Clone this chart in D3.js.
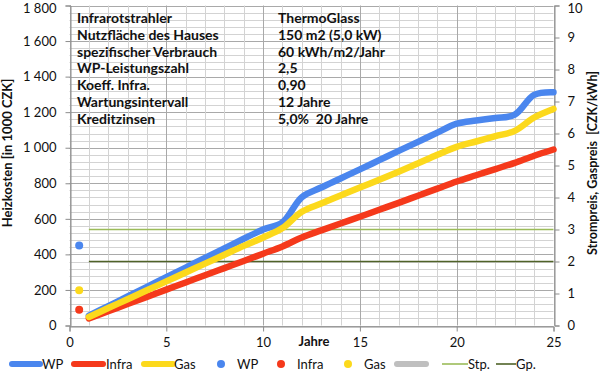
<!DOCTYPE html>
<html><head><meta charset="utf-8">
<script src="https://cdn.jsdelivr.net/npm/d3@7/dist/d3.min.js"></script>
<style>
html,body{margin:0;padding:0;background:#fff;}
svg{display:block;font-family:Lato,"Open Sans",sans-serif;}
text{white-space:pre;}
</style></head><body>
<svg id="c" width="600" height="373"></svg>
<script>
// ---- data ----
const years = d3.range(1, 26);
const wp    = [55,109,163,217,272,326,380,434,488,540,580,722,776,827,878,930,982,1033,1085,1135,1153,1167,1186,1297,1312];
const infra = [40,80,121,161,202,242,283,323,363,404,445,495,535,574,612,651,690,730,770,810,845,880,915,955,990];
const gas   = [48,98,148,198,248,298,348,398,448,495,548,640,686,731,776,820,865,912,960,1005,1035,1065,1095,1170,1218];
const dotX = 0.5;
const dotValues = [{name:"WP", v:450}, {name:"Infra", v:88}, {name:"Gas", v:198}];
const strompreis = 3;   // right axis
const gaspreis = 2;     // right axis
const leftTicks = [0,200,400,600,800,1000,1200,1400,1600,1800];
const leftTickLabels = ["0","200","400","600","800","1\u00a0000","1\u00a0200","1\u00a0400","1\u00a0600","1\u00a0800"];
const rightTicks = [0,1,2,3,4,5,6,7,8,9,10];
const xTicks = [0,5,10,15,20,25];
const infoLabels = ["Infrarotstrahler","Nutzfläche des Hauses","spezifischer Verbrauch","WP-Leistungszahl","Koeff. Infra.","Wartungsintervall","Kreditzinsen"];
const infoValues = ["ThermoGlass","150 m2 (5,0 kW)","60 kWh/m2/Jahr","2,5","0,90","12 Jahre","5,0%\u00a0 20 Jahre"];

// ---- layout ----
const svg = d3.select("#c");
const L = 69.5, R = 553.5, T = 5.5, B = 325.5;
const x = d3.scaleLinear().domain([0,25]).range([L,R]);
const y = d3.scaleLinear().domain([0,1800]).range([B,T]);
const y2 = d3.scaleLinear().domain([0,10]).range([B,T]);
const colors = {WP:"#4a86ee", Infra:"#f5391b", Gas:"#fcd91c"};

// grid
const g = svg.append("g");
g.selectAll(".hmin").data(d3.range(0,1801,40)).join("line")
  .attr("x1",L).attr("x2",R).attr("y1",d=>Math.round(y(d))+0.5).attr("y2",d=>Math.round(y(d))+0.5)
  .attr("stroke", d=> d%200===0 ? "#a9a9a9" : "#d3d3d3").attr("stroke-width",1);
g.selectAll(".vmin").data(d3.range(0,26,1)).join("line")
  .attr("y1",T).attr("y2",B).attr("x1",d=>Math.round(x(d))+0.5).attr("x2",d=>Math.round(x(d))+0.5)
  .attr("stroke", d=> d%5===0 ? "#a9a9a9" : "#d3d3d3").attr("stroke-width",1);

// axes
const axL = svg.append("g").attr("transform",`translate(${Math.round(L)+0.5},0)`)
  .call(d3.axisLeft(y).tickValues(leftTicks).tickSize(5).tickPadding(9)
    .tickFormat((d,i)=>leftTickLabels[i]));
const axR = svg.append("g").attr("transform",`translate(${Math.round(R)+0.5},0)`)
  .call(d3.axisRight(y2).tickValues(rightTicks).tickSize(5).tickPadding(8));
const axB = svg.append("g").attr("transform",`translate(0,${Math.round(B)+0.5})`)
  .call(d3.axisBottom(x).tickValues(xTicks).tickSize(5).tickPadding(6));
[axL,axR,axB].forEach(a=>{
  a.selectAll("path").attr("stroke","#8c8c8c");
  a.selectAll("line").attr("stroke","#8c8c8c");
  a.selectAll("text").attr("fill","#111").style("font-size","13px").style("font-family","Lato, sans-serif");
});
// keep the top labels inside the picture
axL.selectAll(".tick text").filter(d=>d===1800).attr("dy","0.55em");
axR.selectAll(".tick text").filter(d=>d===10).attr("dy","0.55em");

// price lines
svg.append("line").attr("x1",x(1)).attr("x2",x(25)).attr("y1",y2(strompreis)).attr("y2",y2(strompreis))
  .attr("stroke","#9bbb59").attr("stroke-width",1.6);
svg.append("line").attr("x1",x(1)).attr("x2",x(25)).attr("y1",y2(gaspreis)).attr("y2",y2(gaspreis))
  .attr("stroke","#4f6228").attr("stroke-width",1.6);

// info text
const info = svg.append("g").style("font-weight","bold").style("font-size","14px").attr("fill","#111");
infoLabels.forEach((t,i)=>{
  info.append("text").attr("x",77).attr("y",23+i*16.8).text(t);
  info.append("text").attr("x",278).attr("y",23+i*16.8).text(infoValues[i]);
});

// series
const line = d3.line().x((d,i)=>x(years[i])).y(d=>y(d)).curve(d3.curveCatmullRom.alpha(0.5));
[["WP",wp],["Infra",infra],["Gas",gas]].forEach(([n,arr])=>{
  svg.append("path").attr("d",line(arr)).attr("fill","none").attr("stroke",colors[n])
    .attr("stroke-width",6.5).attr("stroke-linecap","round").attr("stroke-linejoin","round");
});

// dots
svg.selectAll(".dot").data(dotValues).join("circle")
  .attr("cx",x(dotX)).attr("cy",d=>y(d.v)).attr("r",4).attr("fill",d=>colors[d.name]);

// axis titles
svg.append("text").attr("transform",`translate(12,153) rotate(-90)`).attr("text-anchor","middle")
  .style("font-weight","bold").style("font-size","13px").attr("fill","#111").text("Heizkosten [in 1000 CZK]");
svg.append("text").attr("transform",`translate(597,163) rotate(-90)`).attr("text-anchor","middle")
  .style("font-weight","bold").style("font-size","12.5px").attr("fill","#111").text("Strompreis, Gaspreis\u00a0 [CZK/kWh]");
svg.append("text").attr("x",314).attr("y",346).attr("text-anchor","middle")
  .style("font-weight","bold").style("font-size","13px").attr("fill","#111").text("Jahre");

// legend
const ly = 364;
const lg = svg.append("g").style("font-size","13px").attr("fill","#111");
const legendItems = [
  {type:"line", c:colors.WP, x1:12, x2:40, w:6, label:"WP", tx:42},
  {type:"line", c:colors.Infra, x1:74, x2:103, w:6, label:"Infra", tx:106},
  {type:"line", c:colors.Gas, x1:144, x2:173, w:6, label:"Gas", tx:174},
  {type:"dot", c:colors.WP, cx:221, label:"WP", tx:237},
  {type:"dot", c:colors.Infra, cx:281, label:"Infra", tx:297},
  {type:"dot", c:colors.Gas, cx:348, label:"Gas", tx:364},
  {type:"line", c:"#bfbfbf", x1:397, x2:426, w:6, label:"", tx:0},
  {type:"line", c:"#9bbb59", x1:442, x2:468, w:1.6, label:"Stp.", tx:468},
  {type:"line", c:"#4f6228", x1:496, x2:516, w:1.6, label:"Gp.", tx:516}
];
legendItems.forEach(it=>{
  if(it.type==="line"){
    lg.append("line").attr("x1",it.x1).attr("x2",it.x2).attr("y1",ly).attr("y2",ly)
      .attr("stroke",it.c).attr("stroke-width",it.w).attr("stroke-linecap", it.w>3?"round":"butt");
  } else {
    lg.append("circle").attr("cx",it.cx).attr("cy",ly).attr("r",4).attr("fill",it.c);
  }
  if(it.label) lg.append("text").attr("x",it.tx).attr("y",ly+4.5).text(it.label);
});
</script>
</body></html>
